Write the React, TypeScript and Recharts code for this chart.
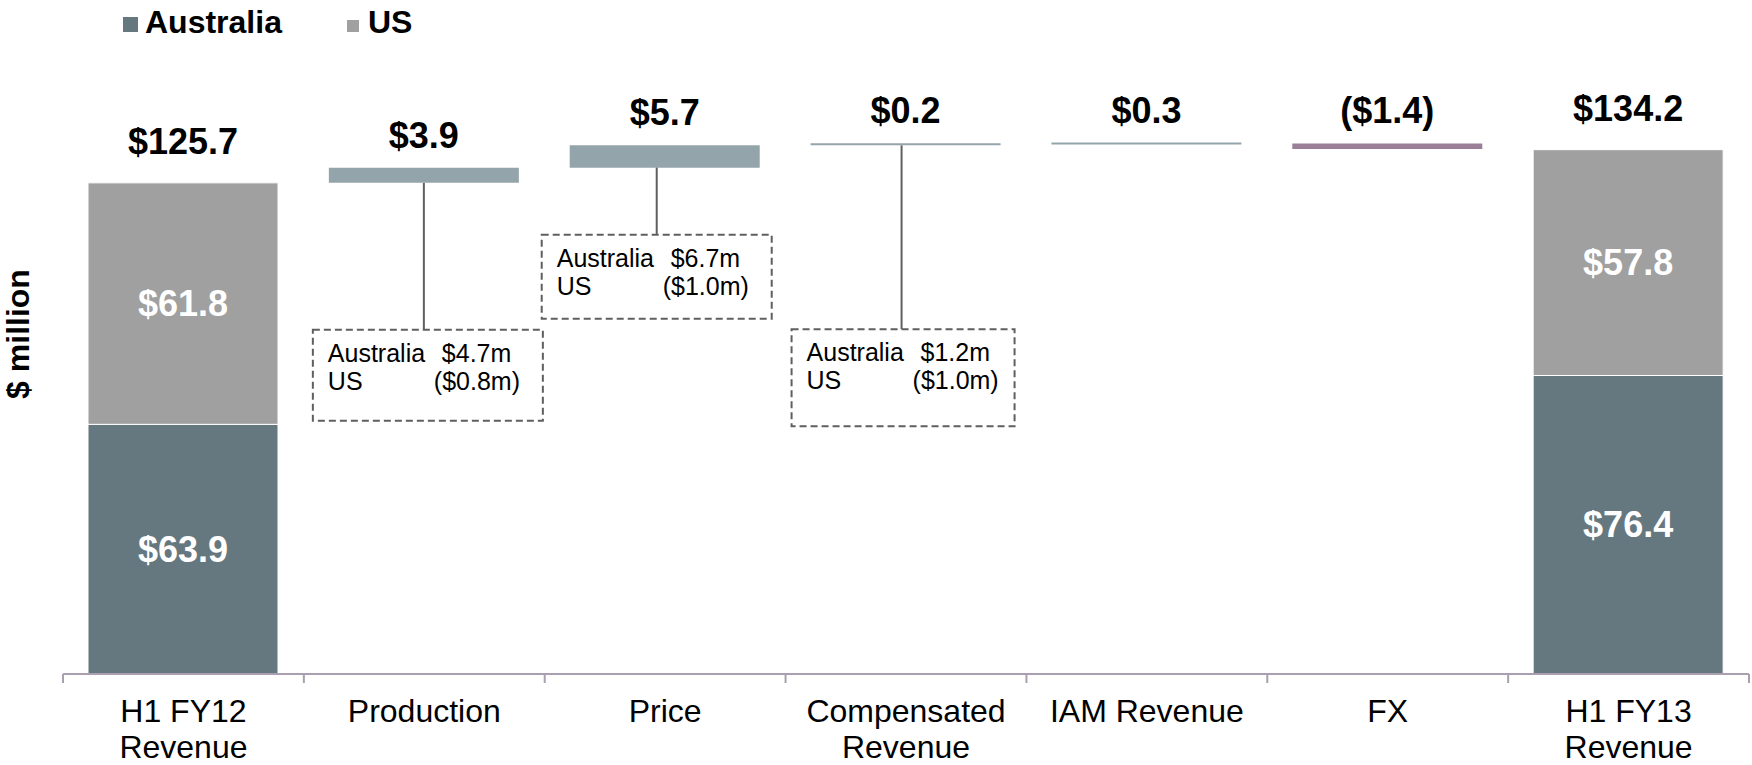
import React from "react";
import { BarChart, Bar, XAxis, YAxis, LabelList, Cell } from "recharts";

// category tick text, one entry per line
const categories = [
  ["H1 FY12", "Revenue"],
  ["Production"],
  ["Price"],
  ["Compensated", "Revenue"],
  ["IAM Revenue"],
  ["FX"],
  ["H1 FY13", "Revenue"],
];
const australia = [63.9, null, null, null, null, null, 76.4];
const us = [61.8, null, null, null, null, null, 57.8];
const changes = [null, 3.9, 5.7, 0.2, 0.3, -1.4, null];
const calloutAustralia = [null, "$4.7m", "$6.7m", "$1.2m", null, null, null];
const calloutUs = [null, "($0.8m)", "($1.0m)", "($1.0m)", null, null, null];

const AUS_COLOR = "#65787F";
const US_COLOR = "#A0A0A0";
const UP_COLOR = "#94A4AB";
const DOWN_COLOR = "#9B7F99";
const AXIS_COLOR = "#A99FB0";
const LINE_COLOR = "#5F5F5F";
const FONT = "'Liberation Sans', Arial, sans-serif";

// callout placement relative to bar centre / bar bottom
const CALLOUTS: Record<number, { boxDx: number; lineDx: number; drop: number; w: number; h: number }> = {
  1: { boxDx: -111, lineDx: 0, drop: 147, w: 230, h: 91 },
  2: { boxDx: -123, lineDx: -8, drop: 67, w: 230, h: 84 },
  3: { boxDx: -114, lineDx: -4, drop: 184, w: 223, h: 97 },
};

const money = (v: number) => (v < 0 ? `($${Math.abs(v).toFixed(1)})` : `$${v.toFixed(1)}`);

let running = 0;
const rows = categories.map((lines, i) => {
  const name = lines.join(" ");
  const c = changes[i];
  if (c == null) {
    running = (australia[i] ?? 0) + (us[i] ?? 0);
    return { name, base: 0, australia: australia[i], us: us[i], change: null as number | null };
  }
  const base = c >= 0 ? running : running + c;
  running += c;
  return { name, base, australia: null, us: null, change: Math.abs(c) };
});

const indexOf = (name: any) => rows.findIndex((r) => r.name === name);

const box = (p: any) => {
  const vb = p.viewBox ?? {};
  return {
    x: p.x ?? vb.x,
    y: p.y ?? vb.y,
    width: p.width ?? vb.width,
    height: p.height ?? vb.height,
  };
};

const InnerLabel = (p: any) => {
  if (p.value == null) return null;
  const { x, y, width, height } = box(p);
  return (
    <text
      x={x + width / 2}
      y={y + height / 2}
      textAnchor="middle"
      dominantBaseline="central"
      fill="#fff"
      fontSize={36}
      fontWeight="bold"
      fontFamily={FONT}
    >
      {money(Number(p.value))}
    </text>
  );
};

const TotalLabel = (p: any) => {
  const i = indexOf(p.value);
  const a = australia[i];
  const u = us[i];
  if (a == null || u == null) return null;
  const { x, y, width } = box(p);
  return (
    <text x={x + width / 2} y={y - 29} textAnchor="middle" fontSize={36} fontWeight="bold" fontFamily={FONT} fill="#000">
      {money(a + u)}
    </text>
  );
};

const ChangeLabel = (p: any) => {
  const c = changes[indexOf(p.value)];
  if (c == null) return null;
  const { x, y, width } = box(p);
  return (
    <text x={x + width / 2} y={y - 20} textAnchor="middle" fontSize={36} fontWeight="bold" fontFamily={FONT} fill="#000">
      {money(c)}
    </text>
  );
};

const Callout = (p: any) => {
  const i = indexOf(p.value);
  const layout = CALLOUTS[i];
  if (!layout || calloutAustralia[i] == null) return null;
  const { x, y, width, height } = box(p);
  const cx = x + width / 2;
  const bottom = y + height;
  const top = bottom + layout.drop;
  const left = cx + layout.boxDx;
  return (
    <g fontFamily={FONT} fontSize={25} fill="#000">
      <line x1={cx + layout.lineDx} x2={cx + layout.lineDx} y1={bottom} y2={top} stroke={LINE_COLOR} strokeWidth={2} />
      <rect
        x={left}
        y={top}
        width={layout.w}
        height={layout.h}
        fill="#fff"
        stroke={LINE_COLOR}
        strokeWidth={2}
        strokeDasharray="7 4"
      />
      <text x={left + 15} y={top + 32}>Australia</text>
      <text x={left + 129} y={top + 32}>{calloutAustralia[i]}</text>
      <text x={left + 15} y={top + 60}>US</text>
      <text x={left + 121} y={top + 60}>{calloutUs[i]}</text>
    </g>
  );
};

const CategoryTick = (p: any) => {
  const { x, y, payload } = p;
  const index = indexOf(payload?.value);
  const half = payload?.offset || 120.4;
  const lines = categories[index] ?? [];
  return (
    <g>
      <line x1={x - half} x2={x - half} y1={y} y2={y + 9} stroke={AXIS_COLOR} strokeWidth={2} />
      {index === categories.length - 1 && (
        <line x1={x + half} x2={x + half} y1={y} y2={y + 9} stroke={AXIS_COLOR} strokeWidth={2} />
      )}
      {lines.map((l, k) => (
        <text key={k} x={x} y={y + 48 + k * 36} textAnchor="middle" fontSize={32} fontFamily={FONT} fill="#000">
          {l}
        </text>
      ))}
    </g>
  );
};

export default function App() {
  return (
    <div style={{ position: "absolute", left: 0, top: 0, width: 1752, height: 765, background: "#fff" }}>
      <BarChart
        width={1752}
        height={765}
        data={rows}
        barSize={190}
        margin={{ top: 127, right: 3, left: 0, bottom: 0 }}
      >
        <XAxis
          dataKey="name"
          interval={0}
          height={91}
          tickLine={false}
          tickSize={0}
          tickMargin={0}
          axisLine={{ stroke: AXIS_COLOR, strokeWidth: 2 }}
          tick={<CategoryTick />}
        />
        <YAxis width={63} domain={[0, 140]} allowDataOverflow tick={false} tickLine={false} axisLine={false} />
        <Bar dataKey="base" stackId="w" fill="none" isAnimationActive={false} />
        <Bar dataKey="australia" stackId="w" fill={AUS_COLOR} stroke="#fff" strokeWidth={1} isAnimationActive={false}>
          <LabelList dataKey="australia" content={InnerLabel} />
        </Bar>
        <Bar dataKey="us" stackId="w" fill={US_COLOR} stroke="#fff" strokeWidth={1} isAnimationActive={false}>
          <LabelList dataKey="us" content={InnerLabel} />
          <LabelList dataKey="name" content={TotalLabel} />
        </Bar>
        <Bar
          dataKey="change"
          stackId="w"
          isAnimationActive={false}
          minPointSize={(_v: any, i: number) => (changes[i] == null ? 0 : 2)}
        >
          {rows.map((_r, i) => (
            <Cell key={`c-${i}`} fill={(changes[i] ?? 0) < 0 ? DOWN_COLOR : UP_COLOR} />
          ))}
          <LabelList dataKey="name" content={ChangeLabel} />
          <LabelList dataKey="name" content={Callout} />
        </Bar>
      </BarChart>
      <svg
        width={1752}
        height={765}
        style={{ position: "absolute", left: 0, top: 0, pointerEvents: "none" }}
        fontFamily={FONT}
        fontWeight="bold"
      >
        <rect x={123} y={17} width={15} height={15} fill={AUS_COLOR} />
        <text x={145} y={33} fontSize={32}>Australia</text>
        <rect x={347} y={20} width={12} height={12} fill={US_COLOR} />
        <text x={368} y={33} fontSize={32}>US</text>
        <text x={18} y={334} fontSize={32} textAnchor="middle" dominantBaseline="central" transform="rotate(-90 18 334)">
          $ million
        </text>
      </svg>
    </div>
  );
}
